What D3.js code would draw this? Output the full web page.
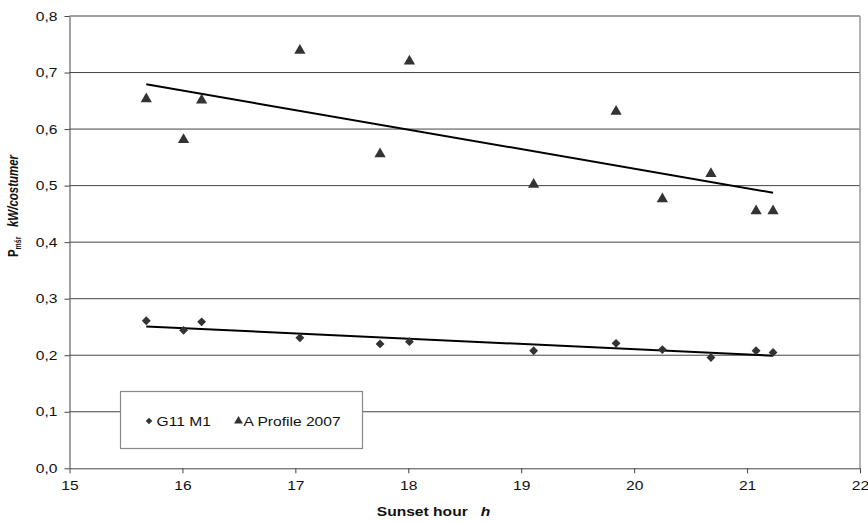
<!DOCTYPE html>
<html><head><meta charset="utf-8">
<script src="https://cdn.jsdelivr.net/npm/d3@7"></script>
<style>body{margin:0;background:#fff}svg{display:block}text{font-family:"Liberation Sans",Arial,sans-serif}</style>
</head><body><svg id="c" width="868" height="523"></svg>
<script>
const sunsetHours = [15.68, 16.01, 16.17, 17.04, 17.75, 18.01, 19.11, 19.84, 20.25, 20.68, 21.08, 21.23];
const g11M1 = [0.261, 0.244, 0.259, 0.231, 0.220, 0.224, 0.208, 0.221, 0.210, 0.196, 0.208, 0.205];
const aProfile2007 = [0.654, 0.582, 0.652, 0.740, 0.557, 0.721, 0.503, 0.632, 0.477, 0.522, 0.456, 0.456];
const xTicks = [15, 16, 17, 18, 19, 20, 21, 22];
const yTicks = [0, 0.1, 0.2, 0.3, 0.4, 0.5, 0.6, 0.7, 0.8];
const seriesNames = ["G11 M1", "A Profile 2007"];

const SX = 1.25, FS = 12.5;
const svg = d3.select("#c");
const L = 69.5, R = 860, T = 16, B = 468.3;
const x = d3.scaleLinear().domain([15, 22]).range([L, R]);
const y = d3.scaleLinear().domain([0, 0.8]).range([B, T]);
const fmt = d => d3.format(".1f")(d).replace(".", ",");

// grid
svg.append("g").selectAll("line").data(yTicks.filter(d => d > 0)).join("line")
  .attr("x1", L).attr("x2", R).attr("y1", d => y(d)).attr("y2", d => y(d))
  .attr("stroke", "#444").attr("stroke-width", 1);
// right border
svg.append("line").attr("x1", R).attr("x2", R).attr("y1", T).attr("y2", B)
  .attr("stroke", "#999").attr("stroke-width", 1.5);

// axes
const ax = svg.append("g").attr("transform", `translate(0,${B})`)
  .call(d3.axisBottom(x).tickValues(xTicks).tickSize(5).tickSizeOuter(0).tickPadding(8).tickFormat(d3.format("d")));
const ay = svg.append("g").attr("transform", `translate(${L},0)`)
  .call(d3.axisLeft(y).tickValues(yTicks).tickSize(5).tickSizeOuter(0).tickPadding(6).tickFormat(fmt));
[ax, ay].forEach(a => {
  a.select(".domain").attr("stroke", "#444");
  a.selectAll(".tick line").attr("stroke", "#444");
  a.selectAll("text").attr("font-size", FS).attr("fill", "#111")
    .attr("font-family", "Liberation Sans, Arial, sans-serif")
    .attr("transform", `scale(${SX},1)`);
});
ay.selectAll("text").attr("x", -9.6);

// trend lines (least squares)
function fit(xs, ys) {
  const n = xs.length, mx = d3.mean(xs), my = d3.mean(ys);
  let sxy = 0, sxx = 0;
  for (let i = 0; i < n; i++) { sxy += (xs[i] - mx) * (ys[i] - my); sxx += (xs[i] - mx) ** 2; }
  const b = sxy / sxx, a = my - b * mx;
  return [d3.min(xs), d3.max(xs)].map(v => [v, a + b * v]);
}
[g11M1, aProfile2007].forEach(s => {
  svg.append("path").datum(fit(sunsetHours, s))
    .attr("d", d3.line().x(d => x(d[0])).y(d => y(d[1])))
    .attr("stroke", "#000").attr("stroke-width", 2).attr("fill", "none");
});

// markers
const diamond = d3.symbol().type(d3.symbolDiamond2).size(50);
const tri = d3.symbol().type(d3.symbolTriangle).size(55);
svg.append("g").selectAll("path").data(sunsetHours.map((h, i) => [h, g11M1[i]])).join("path")
  .attr("d", diamond).attr("transform", d => `translate(${x(d[0])},${y(d[1])})`).attr("fill", "#333");
svg.append("g").selectAll("path").data(sunsetHours.map((h, i) => [h, aProfile2007[i]])).join("path")
  .attr("d", tri).attr("transform", d => `translate(${x(d[0])},${y(d[1]) + 0.5})`).attr("fill", "#333");

// legend
function stretchText(parent, tx, ty) {
  return parent.append("g").attr("transform", `translate(${tx},${ty}) scale(${SX},1)`).append("text");
}
const lg = svg.append("g");
lg.append("rect").attr("x", 120.5).attr("y", 391.5).attr("width", 242).attr("height", 57)
  .attr("fill", "#fff").attr("stroke", "#888").attr("stroke-width", 1.2);
lg.append("path").attr("d", d3.symbol().type(d3.symbolDiamond2).size(28)).attr("transform", "translate(149,421)").attr("fill", "#333");
stretchText(lg, 156.5, 425.5).attr("font-size", FS).attr("fill", "#111").text(seriesNames[0]);
lg.append("path").attr("d", d3.symbol().type(d3.symbolTriangle).size(34)).attr("transform", "translate(238.5,421)").attr("fill", "#333");
stretchText(lg, 243.5, 425.5).attr("font-size", FS).attr("fill", "#111").text(seriesNames[1]);

// axis titles
const xt = stretchText(svg, 433.5, 515.5).attr("text-anchor", "middle")
  .attr("font-size", FS).attr("font-weight", "bold").attr("fill", "#111");
xt.append("tspan").text("Sunset hour\u00a0\u00a0 ");
xt.append("tspan").attr("font-style", "italic").text("h");

const yt = svg.append("text").attr("transform", `translate(18,206) rotate(-90) scale(1,${SX})`).attr("text-anchor", "middle")
  .attr("font-size", 11.5).attr("font-weight", "bold").attr("fill", "#111");
yt.append("tspan").text("P");
yt.append("tspan").attr("font-size", 7).attr("dy", 2.5).text("mśr");
yt.append("tspan").attr("dy", -2.5).attr("font-size", 11.5).text("\u00a0\u00a0 ");
yt.append("tspan").attr("font-style", "italic").text("kW/costumer");
</script></body></html>
